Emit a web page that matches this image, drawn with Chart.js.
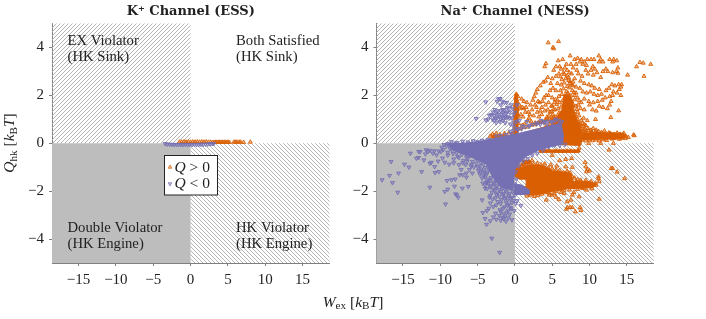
<!DOCTYPE html>
<html><head><meta charset="utf-8">
<script src="https://cdn.jsdelivr.net/npm/chart.js@4"></script>
<style>
html,body{margin:0;padding:0;background:#fff;width:706px;height:319px;overflow:hidden}
canvas{position:absolute;top:0}
#a{left:0}#b{left:353px}
</style></head><body>
<canvas id="a" width="706" height="319"></canvas>
<canvas id="b" width="353" height="319"></canvas>
<script>
// ---------- axis ticks and labels ----------
const xTicks=[-15,-10,-5,0,5,10,15];
const yTicks=[-4,-2,0,2,4];
const xRange=[-18.55,18.6];
const yRange=[-5,5];
const titleK='K\u207A Channel (ESS)';
const titleNa='Na\u207A Channel (NESS)';

// ---------- K+ channel (ESS) values ----------
const kPos=[[-1.5,.05],[-1.2,.05],[-.9,.06],[-.6,.05],[-.3,.06],[0,.05],[.3,.06],[.6,.05],[.9,.06],[1.2,.05],[1.5,.06],[1.8,.05],[2.1,.06],[2.4,.05],[2.7,.05],[3,.04],[3.2,.04],[3.4,.05],[3.6,.04],[3.8,.05],[4,.04],[4.2,.05],[4.4,.04],[4.6,.05],[4.8,.04],[5,.05],[5.2,.04],[5.8,.05],[6,.05],[6.2,.05],[6.5,.05],[6.7,.05],[7.1,.04],[8,.05]];
const kNeg=[[-3.4,-.02],[-3.1,-.04],[-2.8,-.05],[-2.5,-.05],[-2.2,-.06],[-1.9,-.05],[-1.6,-.06],[-1.3,-.05],[-1,-.06],[-.7,-.05],[-.4,-.06],[-.1,-.05],[.2,-.06],[.5,-.05],[.8,-.06],[1.1,-.05],[1.4,-.05],[1.7,-.05],[2,-.04],[2.3,-.04],[2.6,-.03],[2.9,-.02],[3.1,-.02]];

// ---------- Na+ channel (NESS): individually read points ----------
const naPosUpper=[[4.46,4.2],[5.1,4],[5.2,3.95],[5.85,4.25],[4.15,3.33],[4,3.2],[18.2,3.3],[17.2,3.35],[16.75,3.38],[16.3,3.2],[17.3,2.8],[15.1,2.85],
[7.4,3.65],[11.25,3.65],[12.7,3.5],[13.25,3.5],[13.65,3.45],[13.1,3.4],[8.4,3.55],[6.4,3.5],[5.8,3.45],[9.7,3.5],[10.2,3.5],[10.6,3.5],[8,3.5],[8.9,3.5],[11.5,3.5],[11.3,3.4],[11.8,3.4],
[5.5,3.2],[6,3.2],[6.9,3.3],[7.5,3.3],[8.2,3.3],[9.1,3.3],[9.6,3.25],[10.45,3.2],[10.7,3.1],[11.8,3],[12.2,3.1],[12.45,3],[13.6,3],[13.1,2.95],[13.8,3.15],[13.8,2.93],
[9.8,2.9],[10.5,2.85],[11,2.95],[11.5,2.75],[8.5,2.9],[9,2.8],[8.8,2.6],[8,2.7],[7.6,2.9],[7.2,2.75],[7,3.05],[6.5,2.95],[8.3,3.05],[9.5,3.05],[10.2,3.05],[5.9,2.9],[6.2,3.1],[7.8,3.15],[6.7,3.15],[5.2,3.05],[8.7,3.4],[9.3,3.4],
[9.3,2.5],[9.9,2.45],[10.3,2.4],[10.7,2.3],[11.3,2.25],[8.7,2.3],[8.2,2.35],[7.8,2.4],[7.4,2.5],[9.1,2.15],[9.6,2.1],[10.1,2.15],[10.6,2.05],[11.1,2],[11.6,2.05],[12.2,2.2],[12.6,2.3],[13,2.45],[13.4,2.4],[13.9,2.45],[14.2,2.35],[14.3,2.45],[13.2,2.15],[13.7,2.1],[14,2.25],[14.2,2],[12.1,1.9],[12.7,1.95],[13.1,2],[11.7,1.8],[11.1,1.75],[10.5,1.7],[9.9,1.75],[9.3,1.85],[8.9,1.7],[8.4,1.9],[8,2],[8.2,1.55],[8.8,1.45],[9.3,1.4],[10.4,1.4],[10.9,1.35],[11.3,1.55],[11.8,1.5],[12.4,1.45],[12.7,1.6],[12.9,1.75],[8.6,1.15],[8.1,1.2],[9.2,1.05],[9.7,.95],[10,1.6],[10.8,1],[13.9,1.36],[12.85,1.08],
[.4,1.95],[.2,2.05],[.1,1.9],[.9,1.85],[1.2,1.75],[1.6,1.7],[.6,1.6],[1,1.5],[1.5,1.5],[.3,1.4],[.8,1.2],[1.4,1.3],[2,1.2],[2.1,1.6],[2.4,1.8],[2.6,1.95],[2.8,2.1],[3,2.25],[3.4,2.4],[3.8,2.55],[4.1,2.6],[4.4,2.75],[5,2.7],[5.5,2.8],[2.9,1.5],[3.3,1.7],[3.6,1.5],[3.9,1.9],[4.2,2],[4.5,1.7],[4.7,2.2],[5,1.9],[5.2,1.4],[3.2,1.1],[3.6,1.2],[4,1.35],[4.3,1.1],[4.7,1.3],[5,1.05],[2.2,.9],[2.7,.85],[3.1,.85],[3.5,.9],[4,.95],[1.3,.8],[1,.75],[1.7,.95],[5.3,1.7],[5.5,2.2],[5.7,2.5],
[.2,1.2],[.5,1.1],[.7,1.45],[1.1,1.1],[1.2,1.45],[1.8,1.3],[1.9,1.05],[2.3,1.4],[2.5,1.15],[2.7,1.6],[3,1.3],[3.1,1.75],[3.4,1.35],[3.7,1.75],[4.1,1.6],[4.4,1.4],[4.5,2],[4.9,1.55],[5.1,2.3],[4.8,2.5],
[8.2,.75],[8.6,.8],[9,.7],[9.4,.6],[9.8,.62],[10.2,.55],[8.4,1],[8.9,.95],[9.3,.78],[10.5,.62],[10.9,.55]];
const naPosCore=[[3.9,.58],[4.4,.52],[4.8,.63],[5.2,.55],[5.7,.66],[6.1,.6],[6.6,.52],[7.1,.7],[7.6,.56],[8,.64],[8.5,.52],[8.9,.6],[9.3,.55],
[4.2,.72],[4.7,.8],[5.1,.7],[5.5,.86],[5.9,.76],[6.4,.9],[6.8,.72],[7.2,.84],[7.7,.74],[8.2,.9],[8.6,.66],[9.1,.84],
[4.4,.98],[4.9,.92],[5.3,1.02],[5.8,.88],[6.2,1.08],[6.6,.96],[7.1,1.1],[7.5,.94],[7.9,1.06],[8.4,.86],[8.8,.78],[9.5,.74],
[4.6,1.14],[5.1,1.2],[5.5,1.1],[5.9,1.26],[6.3,1.18],[6.7,1.3],[7.1,1.22],[7.5,1.36],[8,1.12],[8.4,1.3],[4.9,1.32],[5.4,1.4],[5.8,1.44],
[6.2,1.52],[6.6,1.44],[7,1.58],[7.4,1.5],[7.8,1.62],[8.3,1.42],[8.5,1.6],[5,1.56],[5.6,1.62],[6,1.7],[6.4,1.78],[6.8,1.66],[7.2,1.84],[7.6,1.74],[8,1.82],[8.6,1.78],
[5.4,1.82],[5.9,1.96],[6.3,2.04],[6.7,1.92],[7.1,2.1],[7.5,1.98],[5.7,1.8],[6.1,2.2],[6.5,2.28],[6.9,2.16],[7.3,2.32],[7.7,2.2],[7.9,2.12],[6.2,2.44],[6.6,2.52],[7,2.38],[7.4,2.58],[7.6,2.44],[6.3,2.66],[6.8,2.7],[7.2,2.62],[6.1,2.78],[6.6,2.88],[7,2.82],[7.8,2.56],[8.2,2.1],[7.3,2.95]];
const naPosBand=[[16,.32],[15.9,.35],[14.9,.28],[14.5,.35],[14,.3],[13.5,.32],[13,.35],[12.5,.3],[12,.35],[11.5,.4],[11,.42],[10.5,.3],[15.2,.25],[14.2,.22],[13.2,.2],[12.2,.2],[11.2,.5],[10.2,.42],[9.5,.45],[-3.3,.3],[-3,.2],[-2.8,.3],[.1,1.1],[.25,1.3],[.05,.8],[.2,.55],[.05,1.6],[.3,1.7],[.15,1.95],[.25,1.8],
[9,.13],[9.5,.1],[10,.15],[10.4,.11],[10.9,.14],[11.3,.1],[11.8,.15],[12.3,.12],
[7,.5],[7.5,.46],[8,.52],[8.5,.45],[9,.5],[9.4,.47],[9.9,.53],[10.3,.46],[10.8,.5],[11.6,.46],[12,.52],[12.6,.44],
[12.8,.41],[13.3,.38],[13.7,.43],[14.1,.38],[14.6,.42],[13,.18],[13.5,.22],[14,.17],[14.4,.23],[14.8,.2],
[-3,.38],[-2.5,.42],[-2,.36],[-1.4,.41],[-.8,.44],[-.3,.4],[.2,.52],[.7,.6],[1.2,.66],[1.7,.68],[2.2,.76],[2.7,.78],[3.2,.86],[3.7,.88],[4.2,.99],[4.7,1],[5.2,1.06],[5.8,1.04],[.1,.7],[.5,.82]];
const naPosLower=[[9.9,0],[11.5,0],[13.2,0],[8.6,-.2],[12.6,-.28],[5,-.5],[6,-.72],[6.8,-.67],[7.6,-.63],[9.4,-.8],[4.8,-.9],[5.6,-.95],[6.8,-.98],[7.7,-1],[9.5,-.98],[9.7,-1.09],[9.6,-1.19],[10,-1.15],[13.1,-1.05],[12.9,-1.05],[13.7,-1.2],[14.7,-1.47],[11.2,-1.4],[11.2,-1.47],[11.3,-2.33],[11.3,-1.6],[10.85,-1.75],[10.2,-1.6],[9.5,-1.54],[8.8,-1.54],[8.2,-1.6],[7.7,-1.4],[6.8,-1.26],[4.2,-2.37],[5.9,-2.35],[4.6,-2.16],[5,-2.16],[5.3,-2.1],[7,-2.44],[7.5,-2.37],[7.7,-2.16],[8.6,-2.23],[7.05,-2.68],[7.4,-2.68],[7.7,-2.68],[8.1,-2.86],[8.75,-2.68],[8.85,-2.8],[6.9,-2.75],[6.6,-2.1],[7.3,-1.95],[8.2,-1.8],[9.1,-1.88],[1.5,-.77],[1.9,-.77],[2.3,-.72],[3.5,-.32],[4,-.32],[4.5,-.3],[5.5,-.32],[6,-.33],[6.5,-.33],[7,-.32],[7.5,-.32],[8,-.34],[8.5,-.3],[5.5,-2.25],[6.2,-2.05],[7.9,-2.05],[9.6,-1.95],[10.3,-1.9],[.9,-.95],[1.2,-.9],
[0,-.95],[.5,-.92],[1,-.88],[1.5,-.85],[2,-.82],[2.5,-.87],[3,-.84],[3.5,-.89],[4,-.86],[4.5,-1.02],[5,-1.06],[5.5,-1.12],[6,-1.13],[6.5,-1.22],[7,-1.16],[7.4,-1.24],
[1.6,-2.2],[2.1,-2.16],[2.6,-2.22],[3.1,-2.18],[3.6,-2.12],[4.1,-2.06],[4.6,-2.08],[5.1,-1.98],[5.6,-2],[6.1,-1.93],[6.6,-1.96],
[8,-1.45],[8.4,-1.52],[8.9,-1.63],[9.4,-1.72],[10,-1.78],[10.4,-1.7],[10.8,-1.66],[9,-1.85],[8.4,-1.92],[7.8,-1.85]];
// Na+ channel (NESS): outlines of the solid orange areas where points merge
const naPosSolidRight=[[6.2,-.05],[8.8,-.1],[9,.15],[12,.17],[14.5,.2],[15,.3],[14.5,.42],[11,.45],[9,.42],[7.5,.5],[6.2,.6],[6.2,-.05]];
const naPosSolidWedge=[[-3.2,.25],[-2,.1],[0,.1],[3,.3],[6.5,.5],[6.5,.98],[5,.78],[3,.6],[1,.42],[0,.32],[-1.5,.33],[-3,.33],[-3.2,.25]];
const naPosSolidCore=[[5,.45],[9,.45],[8.5,.85],[8,1.25],[7.7,1.8],[7.3,2.05],[6.6,2.05],[6.3,1.4],[5.5,1.05],[5,.8],[5,.45]];
const naPosSolidPeak=[[-.1,.3],[.4,.3],[.45,1.6],[.3,2.05],[.05,2.1],[-.1,1.6],[-.1,.3]];
const naPosSolidBlob=[[0,-1],[1,-1],[2,-.9],[4,-.95],[5,-1.15],[7.5,-1.25],[7.8,-1.6],[10,-1.6],[11,-1.72],[10.5,-1.85],[7,-1.9],[5,-2],[3,-2.15],[1.5,-2.15],[0,-2.1],[0,-1.9],[.6,-1.85],[1.5,-1.8],[1.5,-1.5],[.6,-1.5],[0,-1.4],[0,-1]];
const naPosSolidStrip=[[3.3,-.28],[8.6,-.28],[8.6,-.38],[3.3,-.38],[3.3,-.28]];
const naPosSolidSmall=[[1,-.72],[2.1,-.72],[2,-.85],[1,-.85],[1,-.72]];

const naNegPoints=[[-16.6,-.77],[-17.8,-1.53],[-16.8,-1.35],[-16.4,-1.65],[-15.6,-1.25],[-15.7,-2.05],[-14.8,-.88],[-14.2,-1],[-14,-.42],[-12.9,-.35],[-12.7,-.35],[-13.2,-.63],[-12.9,-.6],[-12.2,-.7],[-11.9,-.28],[-11.65,-.35],[-12.5,-1.19],[-11.4,-1.84],[-11.4,-.84],[-11.2,-.8],[-10.75,-.98],[-10.7,-1.23],[-10.2,-1.19],[-11,-.42],[-10.5,-.49],[-9.9,-.35],[-9.1,-1.56],[-9.4,-2.02],[-9,-1.92],[-9.3,-2.54],[-8.5,-1.53],[-8,-1.5],[-8.1,-1.8],[-7.8,-2.16],[-7.95,-2.12],[-7.6,-2.26],[-7.05,-1.88],[-6.25,-1.81],[-6.5,-1.42],[-7.4,-1.32],[-7,-1.32],[-6.1,-1.1],[-6.5,-1.25],[-4.1,-1.25],[-3.5,-1.09],[-4.3,-1.67],[-3.85,-1.65],[-4,-1.88],[-4.4,-2.37],[-3.4,-2.26],[-4.3,-2.9],[-3.75,-2.82],[-4,-3.15],[-3.3,-3.24],[-3.8,-3.39],[-3.1,-3.97],[-2.05,-4.56],
[-12,-.45],[-11.4,-.3],[-10.8,-.32],[-10.3,-.75],[-9.7,-.62],[-9.4,-.8],[-8.8,-.88],[-8.2,-.82],[-7.5,-.9],[-7.2,-1.1],[-6.6,-.9],[-5.9,-.95],[-5.7,-1.25],
[-3.6,1],[-3.4,1.15],[-3.2,1.2],[-3,1],[-2.8,.95],[-2.6,1.05],[-2.5,1.25],[-2.3,1.35],[-2.1,1.1],[-2,.9],[-1.8,1.2],[-1.6,1.4],[-1.5,1.05],[-1.3,.85],[-1.2,1.25],[-1,1.5],[-.9,1.1],[-.7,1.3],[-.5,1.6],[-.4,1.05],[-.2,1.2],[0,1.3],[-1.9,1.6],[-2.4,1.75],[-2.2,1.85],[-1.7,1.75],[-1.4,1.7],[-1.1,1.7],[-2.7,1.4],[-2.9,1.3],[-5.2,1.03],[-3.9,1.72],[-2,1.86],[-3.9,.97],[.3,1.6],[-.6,.8],[-.1,.85],[.2,.9],[.6,.95],[-2.2,1.2],[-1.9,1],[-1.6,.95],[-1.1,1.05],[-.7,1.05],[-2.5,.85],[-1.4,1.4],[-1,1.3],[-.3,1.45],[-1.7,1.1],[-2.8,1.15],[-1.3,1.1],[-1.9,1.35],[-.8,1.45],[-2.4,1.05],[-1.5,1.25],[1.6,.9],[2,.75],[3,.85],[3.5,.95],[4,.9],[4.3,.8],[5,.85],[5.5,1],[6,.8],
[-3.6,.16],[-3.3,.12],[-2.5,.3],[-1.9,.32],[-1.2,.36],[-.5,.4],[-.2,.7],[.3,.62],[1,.72],
[-.6,.5],[-.1,.55],[.4,.55],[.9,.6],[1.4,.68],[1.9,.7],[2.4,.78],[2.9,.8],[3.4,.78],[3.9,.85],[4.4,.92],[4.9,.9],[5.4,.95],[5.9,.95],[6.3,.9],
[3.8,-.3],[3,-.42],[2.3,-.5],[1.7,-.65],[1.1,-.75],[.5,-.95],[.1,-1.2],[.2,-1.5],[0,-1.7],[4.5,-.15],[5.3,-.1],[6,-.1],[6.7,-.05]];
const naNegCloud=[[-8.5,.06],[-7.8,.03],[-7,.08],[-6.3,.05],[-5.6,.1],[-5,.06],[-4.4,.12],[-3.8,.08],
[-9.5,-.06],[-9,-.02],[-8.5,-.1],[-8,-.03],[-7.5,-.08],[-7,-.04],[-6.5,-.11],[-6,-.02],
[-9.8,-.17],[-9.2,-.12],[-8.7,-.22],[-8.2,-.15],[-7.7,-.26],[-7.2,-.2],
[-10.2,-.33],[-9.6,-.27],[-9,-.38],[-8.4,-.3],[-7.8,-.4],[-7.2,-.33],[-6.6,-.42],
[-9,-.5],[-8.3,-.44],[-7.7,-.55],[-7.1,-.47],[-6.5,-.58],[-5.9,-.5],[-5.3,-.6],
[-8.2,-.66],[-7.5,-.6],[-6.9,-.72],[-6.3,-.64],[-5.7,-.76],[-5.1,-.68],[-4.6,-.8],
[-7,-.82],[-6.4,-.76],[-5.8,-.88],[-5.2,-.84],[-4.7,-.95],[-4.2,-.88],
[-5.5,-1],[-5,-.98],[-4.5,-1.08],[-4,-1.02],[-4.9,-1.14],[-4.6,-1.2],[-4.1,-1.16],[-3.7,-1.22],
[-4.7,-1.3],[-4.2,-1.36],[-3.8,-1.3],[-4.4,-1.46],[-4,-1.42],[-3.6,-1.5],[-3.2,-1.44],
[-3.7,-1.6],[-3.3,-1.55],[-2.9,-1.63],[-2.5,-1.57],[-4,-1.74],[-3.6,-1.68],[-3.2,-1.76],[-2.8,-1.7],[-2.4,-1.78],
[-3.7,-1.9],[-3.3,-1.83],[-2.9,-1.92],[-2.5,-1.86],[-2.1,-1.94],[-1.7,-1.87],[-1.3,-1.95],
[-3.1,-2.05],[-2.7,-1.98],[-2.3,-2.08],[-1.9,-2.02],[-1.5,-2.1],[-1.1,-2.03],[-.7,-2.1],[-.3,-2.02],
[-3.3,-2.18],[-2.5,-2.14],[-2.1,-2.22],[-1.6,-2.16],[-1.2,-2.25],[-.8,-2.18],[-.4,-2.27],[0,-2.18],
[-3,-2.34],[-2.6,-2.28],[-1.8,-2.36],[-1.4,-2.3],[-1,-2.38],[-.6,-2.32],[-.2,-2.4],
[-3.3,-2.5],[-2.3,-2.44],[-1.9,-2.52],[-1.2,-2.47],[-.8,-2.55],[-.4,-2.48],[.1,-2.52],
[-2.9,-2.65],[-2.5,-2.58],[-1.4,-2.66],[-1,-2.6],[-.6,-2.68],
[-3.5,-2.72],[-2,-2.78],[-1.6,-2.72],[-.9,-2.8],[-.5,-2.74],[-.1,-2.82],
[-2.6,-2.92],[-1.9,-2.86],[-1.5,-2.95],[-1.1,-2.88],[-.7,-2.96],
[-2.9,-3.08],[-2.1,-3.02],[-1.7,-3.1],[-1.3,-3.04],[-.9,-3.12],
[-1.9,-3.22],[-1.5,-3.16],[-1.2,-3.26],[-2.5,-3.18],[-.4,-3.2],
[.3,-2.4],[.8,-2.6],[-.1,-1.8],[.2,-1.85],[-.05,-2]];
// Na+ channel (NESS): outlines of the solid purple areas where points merge
const naNegSolidCore=[[-9.2,-.03],[-6,.02],[-3.9,.12],[-.4,.35],[.6,.42],[3.3,.62],[6.2,.83],[6.5,.3],[6.4,-.02],[3.3,-.27],[1.5,-.55],[.6,-.84],[0,-1.1],[-.3,-1.95],[-1.2,-1.9],[-2,-1.8],[-3,-1.4],[-3.9,-.84],[-6,-.56],[-8.3,-.28],[-9.2,-.03]];
const naNegSolidTail=[[0,-1.7],[1,-1.75],[1.9,-1.95],[1.9,-2.12],[0,-2.15],[0,-1.7]];

// ---------- colours ----------
const orange='#d95f02', purple='#7570b3';
const orangeFill='rgba(217,95,2,.4)', purpleFill='rgba(117,112,179,.4)';
const spineGrey='#808080', solidGrey='#bdbdbd', hatchGrey='#b4b4b4', ink='#222222';
const serif='"Liberation Serif", serif';

function hatchPattern(ctx,dir){
  const t=document.createElement('canvas');t.width=4;t.height=4;
  const c=t.getContext('2d');c.strokeStyle=hatchGrey;c.lineWidth=1;
  for(const o of [-4,0,4]){c.beginPath();
    if(dir>0){c.moveTo(o,4);c.lineTo(o+4,0);}else{c.moveTo(o,0);c.lineTo(o+4,4);}
    c.stroke();}
  return ctx.createPattern(t,'repeat');
}
// draws a run list: [text, italic?, size scale, baseline shift]
function rich(ctx,runs,x,y,size,center){
  const font=r=>`${r[1]?'italic ':''}${size*(r[2]||1)}px ${serif}`;
  let w=0;for(const r of runs){ctx.font=font(r);w+=ctx.measureText(r[0]).width;}
  let p=center?x-w/2:x;
  ctx.fillStyle=ink;ctx.textAlign='left';ctx.textBaseline='alphabetic';
  for(const r of runs){ctx.font=font(r);ctx.fillText(r[0],p,y+(r[3]||0));p+=ctx.measureText(r[0]).width;}
}
const regions={id:'regions',beforeDatasetsDraw(c){
  const {ctx,chartArea:a,scales:{x,y}}=c;
  const zx=x.getPixelForValue(0),zy=y.getPixelForValue(0);
  ctx.save();
  ctx.fillStyle=solidGrey;ctx.fillRect(a.left,zy,zx-a.left,a.bottom-zy);
  ctx.fillStyle=hatchPattern(ctx,1);ctx.fillRect(a.left,a.top,zx-a.left,zy-a.top);
  ctx.fillStyle=hatchPattern(ctx,-1);ctx.fillRect(zx,zy,a.right-zx,a.bottom-zy);
  ctx.restore();
}};
const notes={id:'notes',afterDraw(c){
  const {ctx}=c;ctx.save();
  for(const [t,px,py] of [['EX Violator',67.5,45],['(HK Sink)',67.5,61],['Both Satisfied',236,45],['(HK Sink)',236,61],['Double Violator',67.5,231.7],['(HK Engine)',67.5,247.7],['HK Violator',236,231.7],['(HK Engine)',236,247.7]])
    rich(ctx,[[t]],px,py,14.7,false);
  // legend
  ctx.fillStyle='#fff';ctx.fillRect(164.5,155.5,53,39.5);
  ctx.strokeStyle='#222';ctx.lineWidth=1;ctx.strokeRect(164.5,155.5,53,39.5);
  const tri=(cx,cy,s,col,fill)=>{ctx.beginPath();ctx.moveTo(cx,cy-s*1.1);ctx.lineTo(cx+s,cy+s*.7);ctx.lineTo(cx-s,cy+s*.7);ctx.closePath();ctx.fillStyle=fill;ctx.fill();ctx.strokeStyle=col;ctx.lineWidth=.7;ctx.stroke();};
  tri(170,167,1.8,orange,orangeFill);tri(170,184,-1.8,purple,purpleFill);
  rich(ctx,[['Q',true],[' > 0']],174.5,171.5,15.5,false);
  rich(ctx,[['Q',true],[' < 0']],174.5,188,15.5,false);
  // shared axis titles
  rich(ctx,[['W',true],['ex',false,.72,2.5],[' ['],['k',true],['B',false,.72,2.5],['T',true],[']']],353,306.5,15.5,true);
  ctx.translate(14,143);ctx.rotate(-Math.PI/2);
  rich(ctx,[['Q',true],['hk',false,.72,2.5],[' ['],['k',true],['B',false,.72,2.5],['T',true],[']']],0,0,15.5,true);
  ctx.restore();
}};
function pts(data,col,fill,rot,order){return {data,pointStyle:'triangle',pointRotation:rot,pointRadius:2.3,pointBorderWidth:.9,pointBorderColor:col,pointBackgroundColor:fill,showLine:false,order,pointHoverRadius:0};}
function solid(data,col,order){return {data,showLine:true,fill:'shape',tension:0,borderColor:col,backgroundColor:col,borderWidth:1,pointRadius:0,order};}
function make(id,title,datasets,yWidth,padRight,plugins){
  return new Chart(document.getElementById(id),{type:'scatter',data:{datasets},plugins:[regions,...plugins],options:{
    responsive:false,animation:false,events:[],
    layout:{padding:{left:0,right:padRight,top:0,bottom:0}},
    plugins:{legend:{display:false},tooltip:{enabled:false},
      title:{display:true,text:title,fullSize:false,color:ink,font:{family:'"DejaVu Serif"',size:13,weight:'bold',lineHeight:1},padding:{top:5,bottom:5.5}}},
    scales:{
      x:{type:'linear',min:xRange[0],max:xRange[1],afterBuildTicks:s=>{s.ticks=xTicks.map(value=>({value}));},afterFit:s=>{s.height=56;},
        border:{color:spineGrey,width:1},grid:{drawOnChartArea:false,tickLength:3,color:spineGrey,tickColor:spineGrey},
        ticks:{autoSkip:false,maxRotation:0,padding:5,color:ink,font:{family:serif,size:15},callback:v=>String(v).replace('-','\u2212')}},
      y:{type:'linear',min:yRange[0],max:yRange[1],afterBuildTicks:s=>{s.ticks=yTicks.map(value=>({value}));},afterFit:s=>{s.width=yWidth;},
        border:{color:spineGrey,width:1},grid:{drawOnChartArea:false,tickLength:3,color:spineGrey,tickColor:spineGrey},
        ticks:{autoSkip:false,padding:5,color:ink,font:{family:serif,size:15},callback:v=>String(v).replace('-','\u2212')}}
    }}});
}
const xy=a=>a.map(([x,y])=>({x,y}));
make('a',titleK,[pts(xy(kNeg),purple,purpleFill,180,1),pts(xy(kPos),orange,orangeFill,0,2)],52,376.5,[notes]);
make('b',titleNa,[
  pts(xy(naNegPoints),purple,purpleFill,180,1),pts(xy(naNegCloud),purple,purpleFill,180,1),
  solid(xy(naNegSolidCore),purple,2),solid(xy(naNegSolidTail),purple,2),
  pts(xy(naPosUpper),orange,orangeFill,0,3),pts(xy(naPosCore),orange,orangeFill,0,3),pts(xy(naPosBand),orange,orangeFill,0,3),pts(xy(naPosLower),orange,orangeFill,0,3),
  solid(xy(naPosSolidRight),orange,4),solid(xy(naPosSolidWedge),orange,4),solid(xy(naPosSolidCore),orange,4),solid(xy(naPosSolidPeak),orange,4),solid(xy(naPosSolidBlob),orange,4),solid(xy(naPosSolidStrip),orange,4),solid(xy(naPosSolidSmall),orange,4)
],23.5,52.3,[]);
</script></body></html>
